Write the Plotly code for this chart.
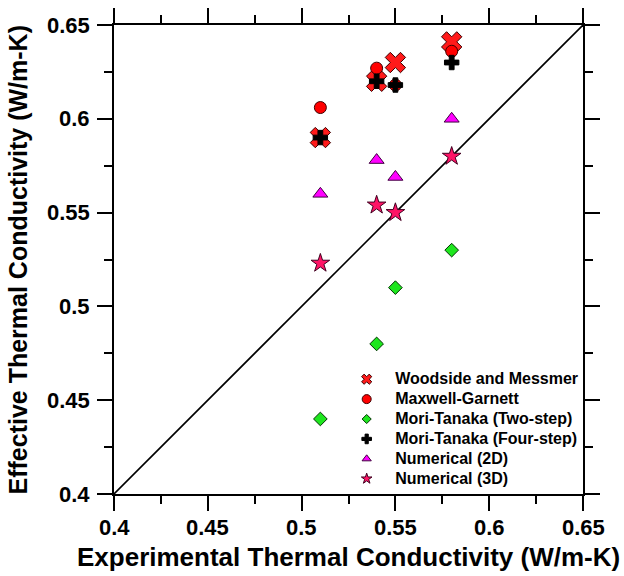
import plotly.graph_objects as go

exp_x = [0.51, 0.54, 0.55, 0.58]
woodside = [0.59, 0.62, 0.63, 0.641]
maxwell = [0.606, 0.627, 0.618, 0.636]
mt_two = [0.44, 0.48, 0.51, 0.53]
mt_four = [0.59, 0.62, 0.618, 0.63]
num_2d = [0.56, 0.578, 0.569, 0.60]
num_3d = [0.523, 0.554, 0.55, 0.58]
diag = [0.4, 0.65]
tick_vals = [0.4, 0.45, 0.5, 0.55, 0.6, 0.65]
tick_text = ["0.4", "0.45", "0.5", "0.55", "0.6", "0.65"]
minor_vals = [0.425, 0.475, 0.525, 0.575, 0.625]
x_title = "Experimental Thermal Conductivity (W/m-K)"
y_title = "Effective Thermal Conductivity (W/m-K)"

names = ["Woodside and Messmer", "Maxwell-Garnett", "Mori-Tanaka (Two-step)",
         "Mori-Tanaka (Four-step)", "Numerical (2D)", "Numerical (3D)"]
series = [woodside, maxwell, mt_two, mt_four, num_2d, num_3d]
symbols = ["x", "circle", "diamond", "cross", "triangle-up", "star"]
colors = ["#ff1a1a", "#ff0000", "#1ee61e", "#000000", "#ff00ff", "#ff1466"]
sizes = [18, 12, 10.5, 12, 13, 14]
leg_sizes = [9, 9, 7, 8, 8, 8]
line_cols = ["#3a0000", "#400000", "#003300", "#000000", "#400040", "#400020"]

FONT = "Liberation Sans"

fig = go.Figure()
fig.add_trace(go.Scatter(x=diag, y=diag, mode="lines",
                         line=dict(color="black", width=1.6),
                         showlegend=False, hoverinfo="skip"))
for n, s, sym, c, sz, lc in zip(names, series, symbols, colors, sizes, line_cols):
    fig.add_trace(go.Scatter(x=exp_x, y=s, mode="markers", showlegend=False,
                             marker=dict(symbol=sym, size=sz, color=c,
                                         line=dict(color=lc, width=1))))
for n, sym, c, sz, lc in zip(names, symbols, colors, leg_sizes, line_cols):
    fig.add_trace(go.Scatter(x=[None], y=[None], mode="markers",
                             name="<span style='font-size:16px'><b>" + n + "</b></span>",
                             marker=dict(symbol=sym, size=sz, color=c,
                                         line=dict(color=lc, width=1))))

axis_common = dict(
    range=[0.4, 0.65], tickvals=tick_vals, showticklabels=False,
    showgrid=False, zeroline=False, automargin=False,
    showline=True, linecolor="black", linewidth=2,
    mirror="ticks", ticks="outside", ticklen=15, tickwidth=2, tickcolor="black",
    minor=dict(ticks="outside", ticklen=8, tickwidth=2, tickcolor="black",
               tickvals=minor_vals, showgrid=False),
)

tick_font = dict(family=FONT, size=22, color="black")
annotations = []
for v, t in zip(tick_vals, tick_text):
    annotations.append(dict(text="<b>" + t + "</b>", xref="x", yref="paper",
                            x=v, y=-0.0704, xanchor="center", yanchor="middle",
                            showarrow=False, font=tick_font))
    annotations.append(dict(text="<b>" + t + "</b>", xref="paper", yref="y",
                            x=-0.0469, y=v, xanchor="right", yanchor="middle",
                            showarrow=False, font=tick_font))
annotations.append(dict(text="<b>" + x_title + "</b>", xref="paper", yref="paper",
                        x=0.5, y=-0.1343, xanchor="center", yanchor="middle",
                        showarrow=False, font=dict(family=FONT, size=26, color="black")))
annotations.append(dict(text="<b>" + y_title + "</b>", xref="paper", yref="paper",
                        x=-0.2047, y=0.5, xanchor="center", yanchor="middle",
                        showarrow=False, textangle=-90,
                        font=dict(family=FONT, size=25, color="black")))

fig.update_layout(
    width=624, height=576,
    margin=dict(l=114, r=41, t=25, b=82),
    plot_bgcolor="white", paper_bgcolor="white",
    xaxis=dict(**axis_common),
    yaxis=dict(**axis_common),
    legend=dict(x=0.478, y=0.2766, xanchor="left", yanchor="top", itemwidth=47,
                font=dict(family=FONT, size=13, color="black"),
                bgcolor="rgba(0,0,0,0)", borderwidth=0, tracegroupgap=0),
    showlegend=True,
    annotations=annotations,
)

fig.write_html("out.html")
